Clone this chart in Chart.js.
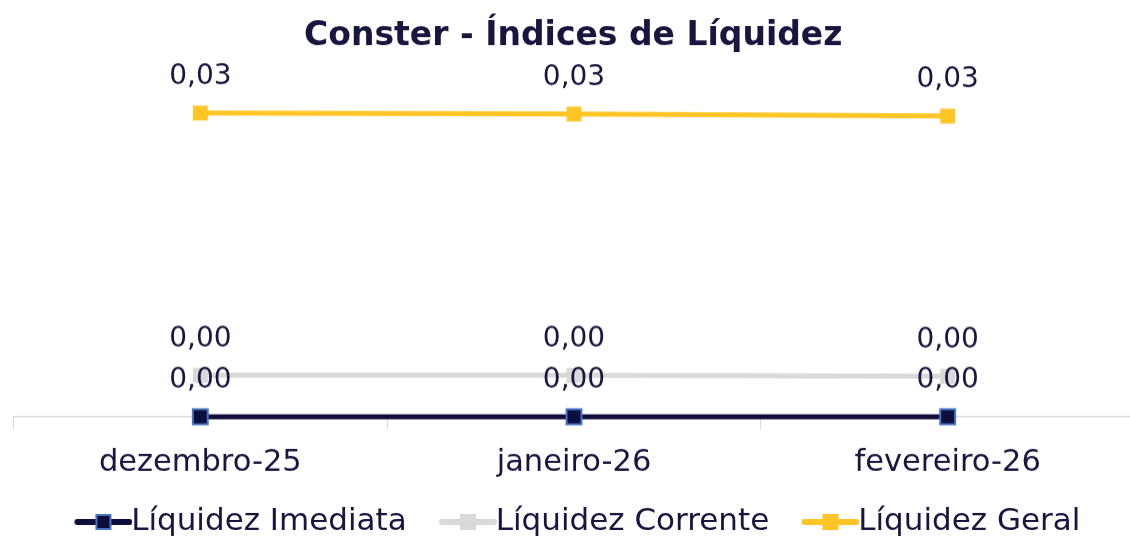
<!DOCTYPE html>
<html>
<head>
<meta charset="utf-8">
<script src="https://cdn.jsdelivr.net/npm/chart.js@4.4.1/dist/chart.umd.min.js"></script>
<style>
  html, body { margin: 0; padding: 0; background: #fff; overflow: hidden; }
  #wrap { width: 1147px; height: 546.5px; }
</style>
</head>
<body>
<div id="wrap"><canvas id="lineChart"></canvas></div>
<script>
// setup
const months = ['dezembro-25', 'janeiro-26', 'fevereiro-26'];
const liqImediata = [0.0000, 0.0000, 0.0000];
const liqCorrente = [0.0041, 0.0041, 0.0040];
const liqGeral = [0.0300, 0.0299, 0.0297];

const textColor = '#16163f';
const fontFamily = '"DejaVu Sans", sans-serif';

// legend symbol: line with a square marker, transparent gap on the left
function legendIcon(color, fill, border) {
  const m = 39;
  const c = document.createElement('canvas');
  c.width = 97; c.height = 18;
  const ctx = c.getContext('2d');
  ctx.strokeStyle = color;
  ctx.lineWidth = 6;
  ctx.lineCap = 'round';
  ctx.beginPath();
  ctx.moveTo(m + 3, 9); ctx.lineTo(m + 55, 9);
  ctx.stroke();
  ctx.fillStyle = fill;
  ctx.fillRect(m + 21, 1, 16, 16);
  if (border) {
    ctx.strokeStyle = border;
    ctx.lineWidth = 2;
    ctx.strokeRect(m + 22, 2, 14, 14);
  }
  return c;
}

// value labels above the points
const valueLabels = {
  id: 'valueLabels',
  afterDatasetsDraw(chart) {
    const ctx = chart.ctx;
    ctx.save();
    ctx.font = '28px ' + fontFamily;
    ctx.fillStyle = textColor;
    ctx.textAlign = 'center';
    ctx.textBaseline = 'middle';
    chart.data.datasets.forEach((ds, i) => {
      chart.getDatasetMeta(i).data.forEach((pt, j) => {
        const txt = ds.data[j].toFixed(2).replace('.', ',');
        ctx.fillText(txt, pt.x, pt.y - 36);
      });
    });
    ctx.restore();
  }
};

// nudge title and legend back to the middle of the visible window
const nudgeBoxes = {
  id: 'nudgeBoxes',
  afterLayout(chart) {
    if (chart.titleBlock) { chart.titleBlock.left -= 6; chart.titleBlock.right -= 6; }
    if (chart.legend) { chart.legend.left -= 13; chart.legend.right -= 13; }
  }
};

const lineDefaults = {
  borderWidth: 5,
  pointStyle: 'rect',
  pointRadius: 10.5,
  clip: false
};

const data = {
  labels: months,
  datasets: [{
    ...lineDefaults,
    label: 'Líquidez Imediata',
    data: liqImediata,
    borderColor: '#0e0e3c',
    backgroundColor: '#0e0e3c',
    pointBorderWidth: 2,
    pointBorderColor: '#4472c4',
    pointBackgroundColor: '#0e0e3c',
    legendIcon: legendIcon('#0e0e3c', '#0e0e3c', '#4472c4')
  }, {
    ...lineDefaults,
    label: 'Líquidez Corrente',
    data: liqCorrente,
    borderColor: '#d9d9d9',
    backgroundColor: '#d9d9d9',
    pointBorderWidth: 0,
    pointBackgroundColor: '#d9d9d9',
    legendIcon: legendIcon('#d9d9d9', '#d9d9d9')
  }, {
    ...lineDefaults,
    label: 'Líquidez Geral',
    data: liqGeral,
    borderColor: '#ffc425',
    backgroundColor: '#ffc425',
    pointBorderWidth: 0,
    pointBackgroundColor: '#ffc425',
    legendIcon: legendIcon('#ffc425', '#ffc425')
  }]
};

// config
const config = {
  type: 'line',
  data,
  options: {
    responsive: true,
    maintainAspectRatio: false,
    animation: false,
    layout: { padding: { left: 13.5, right: 2, top: 0, bottom: 0 } },
    plugins: {
      title: {
        display: true,
        text: 'Conster - Índices de Líquidez',
        color: textColor,
        font: { family: fontFamily, size: 33, weight: 'bold' },
        padding: { top: 16.6, bottom: 6.1 }
      },
      legend: {
        position: 'bottom',
        labels: {
          color: textColor,
          font: { family: fontFamily, size: 31 },
          usePointStyle: true,
          pointStyleWidth: 63.5,
          padding: 10,
          generateLabels(chart) {
            return chart.data.datasets.map((ds, i) => ({
              text: ds.label,
              pointStyle: ds.legendIcon,
              fontColor: textColor,
              lineWidth: 0,
              strokeStyle: 'transparent',
              fillStyle: 'transparent',
              hidden: false,
              datasetIndex: i
            }));
          }
        }
      },
      tooltip: { enabled: false }
    },
    scales: {
      x: {
        offset: true,
        afterFit(scale) { scale.height = 79.5; },
        border: { display: true, color: '#d9d9d9', width: 1.5 },
        grid: {
          display: true,
          drawOnChartArea: false,
          drawTicks: true,
          tickLength: 13,
          color: '#d9d9d9',
          offset: true
        },
        ticks: {
          color: textColor,
          font: { family: fontFamily, size: 30.5 },
          padding: 15
        }
      },
      y: {
        display: false,
        min: 0,
        max: 0.035
      }
    }
  },
  plugins: [valueLabels, nudgeBoxes]
};

// render init block
const lineChart = new Chart(
  document.getElementById('lineChart'),
  config
);
</script>
</body>
</html>
